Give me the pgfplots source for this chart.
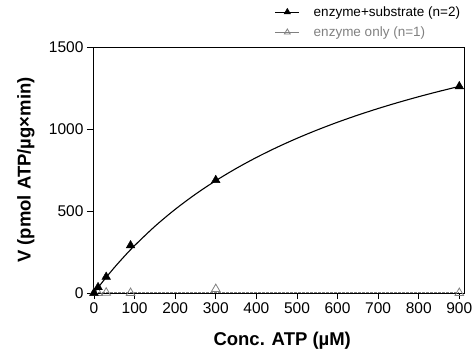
\documentclass[border=0pt]{standalone}
\usepackage{pgfplots}
\pgfplotsset{compat=1.18}
\usepackage{fontspec}
\setmainfont{Liberation Sans}
\definecolor{greyline}{RGB}{128,128,128}
\begin{document}
\begin{tikzpicture}
\useasboundingbox (-93pt,-58pt) rectangle (383pt,293pt);
\begin{axis}[
  at={(0,0)}, anchor=south west,
  width=371pt, height=246pt, scale only axis,
  xmin=-2.5, xmax=911.6, ymin=0, ymax=1500,
  xtick={0,100,...,900}, ytick={0,500,1000,1500},
  xtick pos=left, ytick pos=left, tick align=outside,
  major tick length=6pt,
  tick style={black, line width=0.9pt},
  axis line style={black, line width=0.9pt},
  /pgf/number format/assume math mode=true,
  /pgf/number format/set thousands separator={},
  tick label style={font=\fontsize{15.5}{17}\selectfont},
  xlabel={\bfseries Conc. ATP (µM)},
  ylabel={\bfseries V (pmol ATP/µg×min)},
  label style={font=\fontsize{18.5}{20}\selectfont},
  xlabel style={at={(axis description cs:0.51,0)}, anchor=north, yshift=-36pt},
  ylabel style={at={(axis description cs:0,0.5)}, anchor=south, yshift=55pt},
  clip=false,
  legend image code/.code={\draw[mark repeat=2,mark phase=2] plot coordinates {(0pt,0pt)(12pt,0pt)(24pt,0pt)};\path (36pt,0pt);},
  legend style={at={(axis description cs:0.998,1.178)}, anchor=north east, draw=none, fill=none,
     font=\fontsize{13.5}{15}\selectfont, row sep=5pt, inner sep=1pt},
  legend cell align=left,
]
\addlegendimage{black, line width=0.8pt, mark=triangle*, mark size=3.4pt, mark options={solid, fill=black}}
\addlegendentry{enzyme+substrate (n=2)}
\addlegendimage{greyline, line width=0.8pt, mark=triangle, mark size=3.4pt, mark options={solid, fill=white}}
\addlegendentry{\textcolor{greyline}{enzyme only (n=1)}}
% fitted curve enzyme+substrate
\addplot[black, line width=1.1pt, smooth, forget plot] coordinates {
(0,0) (10,32.8) (25,80.3) (50,154.9) (75,224.3) (100,289.1) (150,406.6) (200,510.2)
(250,602.4) (300,684.8) (350,759.1) (400,826.3) (450,887.3) (500,943.1) (550,994.2)
(600,1041.3) (650,1084.7) (700,1124.9) (750,1162.2) (800,1197.0) (850,1229.4) (900,1259.8)};
% enzyme only fit line
\addplot[greyline, line width=0.9pt, dash pattern=on 3pt off 1pt, forget plot] coordinates {(0,1) (900,1)};
% enzyme only points
\addplot[greyline, only marks, mark=triangle, mark size=5pt, mark options={fill=white, line width=0.8pt}, forget plot] coordinates {
(0,0) (10,0) (30,2) (90,0) (300,24) (900,0)};
% enzyme+substrate points
\addplot[black, only marks, mark=triangle*, mark size=5pt, mark options={fill=black}, forget plot] coordinates {
(0,0) (10,35) (30,98) (90,290) (300,688) (900,1260)};
\end{axis}
\end{tikzpicture}
\end{document}
